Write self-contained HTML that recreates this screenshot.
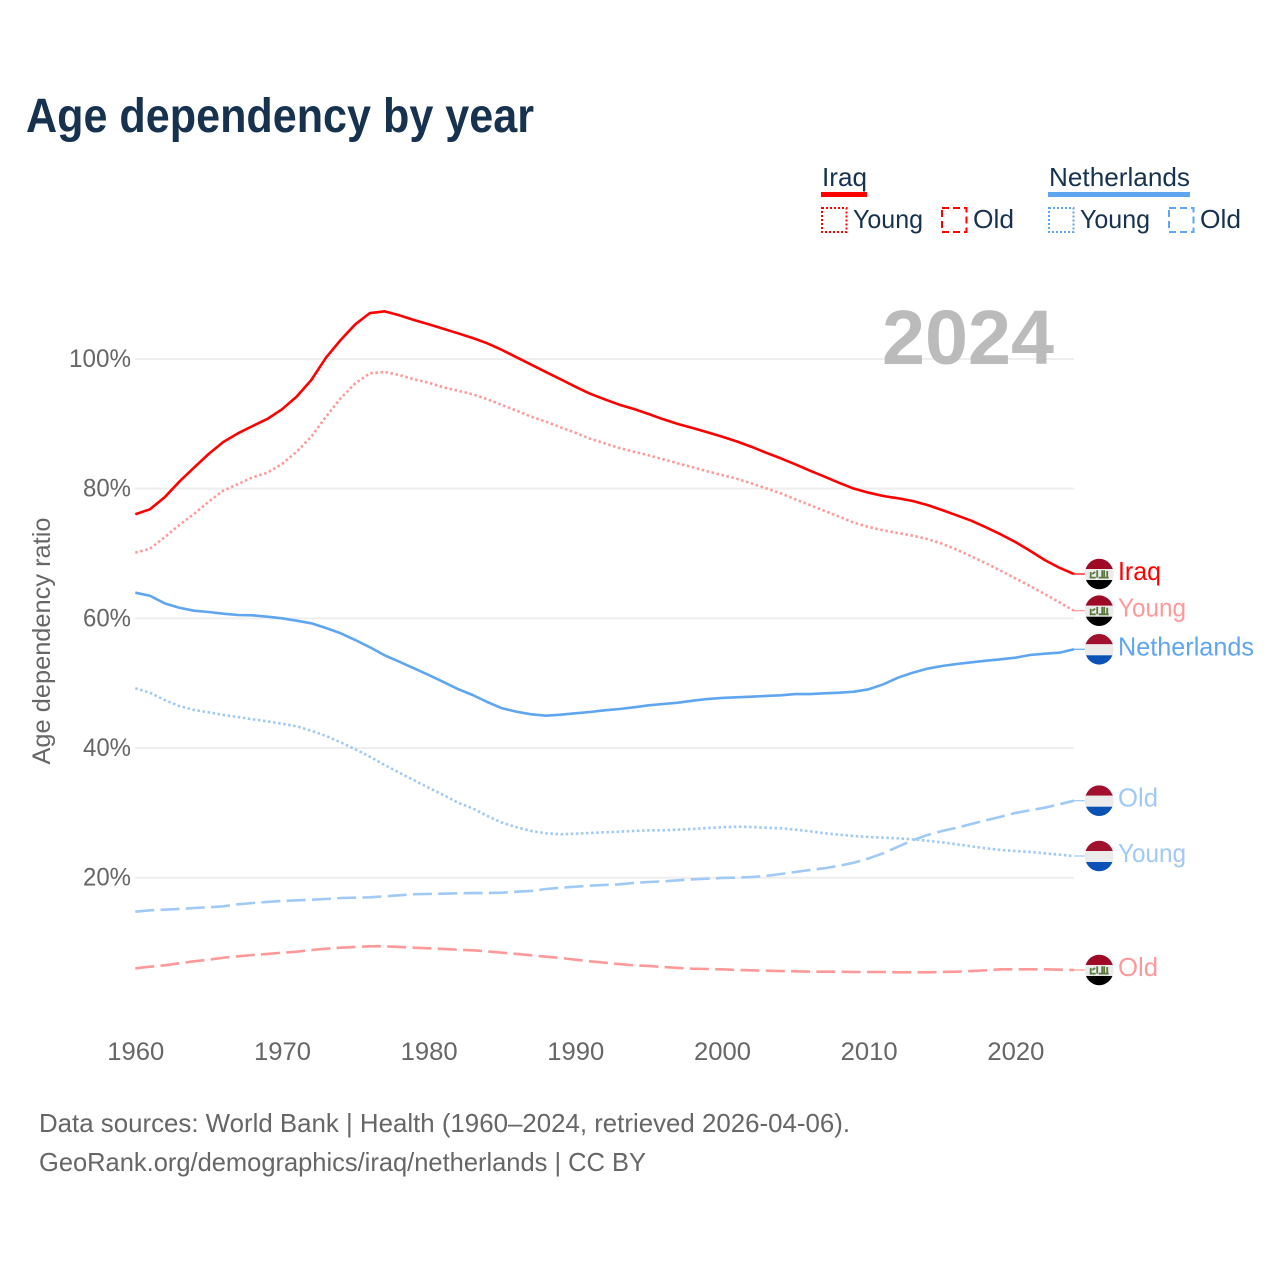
<!DOCTYPE html>
<html lang="en">
<head>
<meta charset="utf-8">
<title>Age dependency by year</title>
<style>
  html, body { margin: 0; padding: 0; background: #fff; }
  svg { display: block; font-family: "Liberation Sans", Arial, sans-serif; }
</style>
</head>
<body>
<svg id="chart" xmlns="http://www.w3.org/2000/svg" width="1280" height="1280" viewBox="0 0 1280 1280">
  <defs>
    <clipPath id="flag-clip"><ellipse cx="0" cy="0" rx="14.4" ry="15.3"/></clipPath>
    <g id="flag-iraq" clip-path="url(#flag-clip)">
      <rect x="-16" y="-16" width="32" height="11" fill="#9e0a26"/>
      <rect x="-16" y="-5" width="32" height="11" fill="#ececec"/>
      <rect x="-16" y="6" width="32" height="10" fill="#000"/>
      <path d="M-9.5 3.6H-3.5M-8.5 3.6V-2M-7 0L-4 -2M-2 3.6V-3.8M-0.5 3.6H3V-3.8M5 3.6V-3.8M3 3.6H9.5M8 3.6V-3" fill="none" stroke="#5a7a40" stroke-width="1.8"/>
    </g>
    <g id="flag-netherlands" clip-path="url(#flag-clip)">
      <rect x="-16" y="-16" width="32" height="11" fill="#a1102d"/>
      <rect x="-16" y="-5" width="32" height="11" fill="#ebebeb"/>
      <rect x="-16" y="6" width="32" height="10" fill="#0a52b5"/>
    </g>
  </defs>

  <text x="26" y="132" font-size="48" font-weight="700" fill="#17324f" textLength="508" lengthAdjust="spacingAndGlyphs">Age dependency by year</text>

  <g>
    <g>
      <text x="822" y="186" font-size="26" fill="#17324f" textLength="45" lengthAdjust="spacingAndGlyphs">Iraq</text>
      <rect x="821" y="192" width="46" height="5" fill="#ff0000"/>
      <rect x="822" y="208" width="24.5" height="24" fill="none" stroke="#ff0000" stroke-width="2" stroke-dasharray="2 2"/>
      <text x="853" y="228" font-size="26" fill="#17324f" textLength="70" lengthAdjust="spacingAndGlyphs">Young</text>
      <rect x="942" y="208" width="24.5" height="24" fill="none" stroke="#ff0000" stroke-width="2" stroke-dasharray="7 4"/>
      <text x="973" y="228" font-size="26" fill="#17324f" textLength="41" lengthAdjust="spacingAndGlyphs">Old</text>
    </g>
    <g>
      <text x="1049" y="186" font-size="26" fill="#17324f" textLength="141" lengthAdjust="spacingAndGlyphs">Netherlands</text>
      <rect x="1048" y="192" width="142" height="5" fill="#5fa5f0"/>
      <rect x="1049" y="208" width="24.5" height="24" fill="none" stroke="#5fa5f0" stroke-width="2" stroke-dasharray="2 2"/>
      <text x="1080" y="228" font-size="26" fill="#17324f" textLength="70" lengthAdjust="spacingAndGlyphs">Young</text>
      <rect x="1169" y="208" width="24.5" height="24" fill="none" stroke="#5fa5f0" stroke-width="2" stroke-dasharray="7 4"/>
      <text x="1200" y="228" font-size="26" fill="#17324f" textLength="41" lengthAdjust="spacingAndGlyphs">Old</text>
    </g>
  </g>

  <text transform="translate(50 641) rotate(-90)" text-anchor="middle" font-size="25" fill="#666666" textLength="247" lengthAdjust="spacingAndGlyphs">Age dependency ratio</text>

  <g id="grid"></g>
  <g id="y-ticks"></g>
  <g id="x-ticks"></g>

  <text x="882" y="364" font-size="77" font-weight="700" fill="#bbbbbb" textLength="172" lengthAdjust="spacingAndGlyphs">2024</text>

  <g id="series"></g>
  <g id="end-labels"></g>

  <text x="39" y="1132" font-size="26" fill="#666666" textLength="811" lengthAdjust="spacingAndGlyphs">Data sources: World Bank | Health (1960–2024, retrieved 2026-04-06).</text>
  <text x="39" y="1171" font-size="26" fill="#666666" textLength="607" lengthAdjust="spacingAndGlyphs">GeoRank.org/demographics/iraq/netherlands | CC BY</text>
</svg>

<script>
const years = [
  1960,1961,1962,1963,1964,1965,1966,1967,1968,1969,
  1970,1971,1972,1973,1974,1975,1976,1977,1978,1979,
  1980,1981,1982,1983,1984,1985,1986,1987,1988,1989,
  1990,1991,1992,1993,1994,1995,1996,1997,1998,1999,
  2000,2001,2002,2003,2004,2005,2006,2007,2008,2009,
  2010,2011,2012,2013,2014,2015,2016,2017,2018,2019,
  2020,2021,2022,2023,2024
];
const xTickYears = [1960,1970,1980,1990,2000,2010,2020];
const yTickValues = [20,40,60,80,100];

const iraqTotal = [
  76.05,76.82,78.67,81.08,83.24,85.35,87.2,88.54,89.67,90.75,
  92.24,94.19,96.76,100.2,102.93,105.35,107.09,107.35,106.74,106.01,
  105.35,104.67,103.96,103.24,102.42,101.39,100.26,99.12,97.99,96.87,
  95.73,94.65,93.78,92.95,92.29,91.52,90.7,89.98,89.36,88.7,
  88.02,87.3,86.47,85.55,84.69,83.76,82.77,81.85,80.88,80.0,
  79.38,78.87,78.52,78.1,77.48,76.71,75.89,75.06,74.04,72.96,
  71.78,70.43,69.0,67.81,66.84
];
const iraqYoung = [
  70.13,70.74,72.5,74.4,76.1,77.99,79.69,80.72,81.75,82.46,
  83.81,85.7,88.02,91.1,93.94,96.25,97.8,98.0,97.53,96.87,
  96.35,95.64,95.11,94.56,93.79,92.91,92.03,91.1,90.33,89.47,
  88.63,87.71,87.0,86.27,85.7,85.15,84.53,83.91,83.3,82.68,
  82.11,81.54,80.83,80.06,79.29,78.36,77.48,76.56,75.68,74.75,
  74.09,73.58,73.16,72.75,72.24,71.52,70.59,69.57,68.49,67.35,
  66.18,64.99,63.76,62.48,61.18
];
const iraqOld = [
  6.03,6.28,6.49,6.8,7.11,7.36,7.66,7.88,8.08,8.24,
  8.44,8.59,8.85,9.05,9.21,9.32,9.42,9.42,9.32,9.21,
  9.11,9.01,8.9,8.81,8.65,8.44,8.24,8.04,7.82,7.62,
  7.36,7.11,6.89,6.69,6.49,6.39,6.23,6.08,5.97,5.92,
  5.88,5.77,5.72,5.66,5.61,5.57,5.51,5.51,5.51,5.46,
  5.46,5.46,5.41,5.41,5.41,5.46,5.51,5.61,5.72,5.88,
  5.88,5.88,5.88,5.81,5.77
];
const netherlandsTotal = [
  63.96,63.49,62.32,61.64,61.18,60.98,60.72,60.52,60.47,60.26,
  60.01,59.64,59.24,58.51,57.7,56.66,55.54,54.3,53.32,52.3,
  51.27,50.19,49.1,48.18,47.1,46.13,45.6,45.2,44.99,45.14,
  45.36,45.56,45.82,46.02,46.28,46.59,46.79,46.99,47.3,47.56,
  47.72,47.82,47.92,48.03,48.13,48.33,48.33,48.44,48.53,48.69,
  49.06,49.83,50.85,51.62,52.24,52.65,52.96,53.22,53.47,53.69,
  53.93,54.35,54.55,54.7,55.23
];
const netherlandsYoung = [
  49.21,48.53,47.41,46.48,45.87,45.51,45.1,44.79,44.43,44.12,
  43.75,43.35,42.67,41.86,40.88,39.81,38.66,37.38,36.2,35.02,
  33.88,32.76,31.57,30.7,29.52,28.49,27.78,27.21,26.85,26.7,
  26.79,26.9,27.01,27.1,27.21,27.31,27.31,27.41,27.51,27.67,
  27.78,27.87,27.82,27.71,27.62,27.41,27.16,26.85,26.64,26.43,
  26.28,26.17,26.07,25.92,25.7,25.46,25.15,24.84,24.54,24.28,
  24.12,23.97,23.77,23.55,23.35
];
const netherlandsOld = [
  14.76,14.98,15.07,15.18,15.33,15.44,15.59,15.9,16.1,16.26,
  16.41,16.52,16.61,16.72,16.87,16.92,16.98,17.14,17.29,17.45,
  17.5,17.54,17.6,17.64,17.64,17.69,17.84,17.96,18.26,18.46,
  18.62,18.77,18.88,18.98,19.19,19.34,19.45,19.6,19.76,19.85,
  19.96,20.01,20.11,20.27,20.57,20.88,21.19,21.46,21.85,22.32,
  22.97,23.77,24.78,25.77,26.59,27.2,27.71,28.28,28.86,29.41,
  29.98,30.4,30.8,31.32,31.88
];

const NS = 'http://www.w3.org/2000/svg';
const plotLeft = 135.3, plotRight = 1074;
function xScale(year) {
  return plotLeft + (year - 1960) * (plotRight - plotLeft) / (2024 - 1960);
}
function yScale(value) {
  return 1007.4 - 6.484 * value;
}
function svgEl(tag, parent) {
  const el = document.createElementNS(NS, tag);
  parent.appendChild(el);
  return el;
}

const gridG = document.getElementById('grid');
const yTicksG = document.getElementById('y-ticks');
const xTicksG = document.getElementById('x-ticks');
const seriesG = document.getElementById('series');
const labelsG = document.getElementById('end-labels');

yTickValues.forEach(function (t) {
  const line = svgEl('line', gridG);
  
  
  line.setAttribute('x1', plotLeft - 0.3);
  line.setAttribute('x2', plotRight);
  line.setAttribute('y1', yScale(t));
  line.setAttribute('y2', yScale(t));
  line.setAttribute('stroke', '#eeeeee');
  line.setAttribute('stroke-width', '2');

  const label = svgEl('text', yTicksG);
  
  
  label.setAttribute('x', t === 100 ? 69 : 83);
  label.setAttribute('y', yScale(t) + 8);
  label.setAttribute('font-size', '25');
  label.setAttribute('fill', '#666666');
  label.setAttribute('textLength', t === 100 ? 62 : 48);
  label.setAttribute('lengthAdjust', 'spacingAndGlyphs');
  label.textContent = t + '%';
});

xTickYears.forEach(function (year) {
  const label = svgEl('text', xTicksG);
  
  
  label.setAttribute('x', xScale(year) - 28);
  label.setAttribute('y', 1060);
  label.setAttribute('font-size', '25');
  label.setAttribute('fill', '#666666');
  label.setAttribute('textLength', 57);
  label.setAttribute('lengthAdjust', 'spacingAndGlyphs');
  label.textContent = year;
});

const seriesDefs = [
  { id: 'iraq-old', values: iraqOld, color: '#ff9999', dash: '19 6.3', flag: 'flag-iraq', label: 'Old', len: 40 },
  { id: 'netherlands-old', values: netherlandsOld, color: '#a0c9f5', dash: '19 6.3', flag: 'flag-netherlands', label: 'Old', len: 40 },
  { id: 'netherlands-young', values: netherlandsYoung, color: '#a0c9f5', dash: '2.5 2.6', flag: 'flag-netherlands', label: 'Young', len: 68 },
  { id: 'iraq-young', values: iraqYoung, color: '#ff9999', dash: '2.5 2.6', flag: 'flag-iraq', label: 'Young', len: 68 },
  { id: 'netherlands-total', values: netherlandsTotal, color: '#5fa5f0', dash: '', flag: 'flag-netherlands', label: 'Netherlands', len: 136 },
  { id: 'iraq-total', values: iraqTotal, color: '#ff0000', dash: '', flag: 'flag-iraq', label: 'Iraq', len: 43 }
];

seriesDefs.forEach(function (s) {
  let d = '';
  years.forEach(function (year, i) {
    d += (i === 0 ? 'M' : 'L') + xScale(year).toFixed(2) + ' ' + yScale(s.values[i]).toFixed(2);
  });
  const path = svgEl('path', seriesG);
  
  
  path.setAttribute('d', d);
  path.setAttribute('fill', 'none');
  path.setAttribute('stroke', s.color);
  path.setAttribute('stroke-width', '2.6');
  path.setAttribute('stroke-linejoin', 'round');
  if (s.dash) path.setAttribute('stroke-dasharray', s.dash);

  const endYear = years[years.length - 1];
  const endY = yScale(s.values[s.values.length - 1]);

  const connector = svgEl('line', labelsG);
  
  
  connector.setAttribute('x1', xScale(endYear));
  connector.setAttribute('x2', 1086);
  connector.setAttribute('y1', endY);
  connector.setAttribute('y2', endY);
  connector.setAttribute('stroke', s.color);
  connector.setAttribute('stroke-width', '1.2');

  const flag = svgEl('use', labelsG);
  
  
  flag.setAttribute('href', '#' + s.flag);
  flag.setAttribute('transform', 'translate(1099.2 ' + endY.toFixed(2) + ')');

  const label = svgEl('text', labelsG);
  
  
  label.setAttribute('x', 1118);
  label.setAttribute('y', endY + 6);
  label.setAttribute('font-size', '26');
  label.setAttribute('fill', s.color);
  label.setAttribute('textLength', s.len);
  label.setAttribute('lengthAdjust', 'spacingAndGlyphs');
  label.textContent = s.label;
});
</script>
</body>
</html>
